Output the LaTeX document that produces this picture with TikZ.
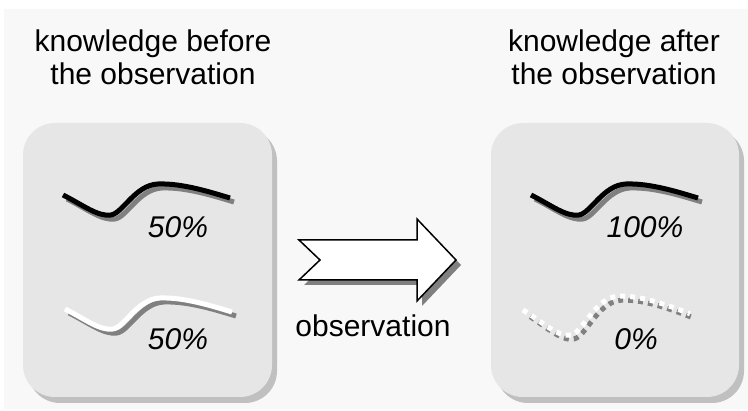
\documentclass[tikz,border=0pt]{standalone}
\usepackage{fontspec}
\setmainfont{Liberation Sans}
\definecolor{bggray}{HTML}{F8F8F8}
\definecolor{boxgray}{HTML}{E6E6E6}
\definecolor{boxshade}{HTML}{C0C0C0}
\definecolor{lineshade}{HTML}{808080}
\tikzset{
	panel/.style={fill=boxgray,rounded corners=32pt},
	panelshade/.style={fill=boxshade,rounded corners=32pt},
	title/.style={font=\fontsize{30}{33}\selectfont,align=center,anchor=base},
	percent/.style={font=\fontsize{30}{33}\selectfont\itshape,anchor=base},
	blackwave/.style={draw=black,line width=5pt},
	whitewave/.style={draw=white,line width=5pt},
	wavehadow/.style={draw=lineshade,line width=5pt},
	dotwave/.style={draw=white,line width=5pt,dash pattern=on 5pt off 5pt},
	dotshade/.style={draw=lineshade,line width=5pt,dash pattern=on 5pt off 5pt,dash phase=5pt}
}
\newcommand{\wave}{(0,0) .. controls (20,10) and (35,22) .. (48,20) .. controls (60,18) and (72,-10) .. (95,-11) .. controls (120,-12) and (150,-2) .. (167,3)}
\begin{document}
\begin{tikzpicture}[x=1pt,y=-1pt]
	\useasboundingbox (0,0) rectangle (748,411);
	\fill[bggray] (4,9) rectangle (748,409);
	% panels
	\fill[panelshade] (28,129) rectangle (277,403);
	\fill[panel] (23,123) rectangle (272,397);
	\fill[panelshade] (496,129) rectangle (744,403);
	\fill[panel] (491,123) rectangle (739,397);
	% titles
	\node[title] (before) at (153,85) {knowledge before\\the observation};
	\node[title] (after) at (614,85) {knowledge after\\the observation};
	% left panel
	\draw[wavehadow,shift={(67,199)}] \wave;
	\draw[blackwave,shift={(63,195)}] \wave;
	\draw[wavehadow,shift={(69,313)}] \wave;
	\draw[whitewave,shift={(65,309)}] \wave;
	\node[percent] (pa) at (178,238) {50\%};
	\node[percent] (pb) at (178,350) {50\%};
	% right panel
	\draw[wavehadow,shift={(535,199)}] \wave;
	\draw[blackwave,shift={(531,195)}] \wave;
	\draw[dotshade,shift={(526,314)},yscale=1.25] \wave;
	\draw[dotwave,shift={(523,310)},yscale=1.25] \wave;
	\node[percent] (pc) at (645,238) {100\%};
	\node[percent] (pd) at (636,350) {0\%};
	% arrow
	\fill[lineshade,shift={(5,5)}] (299,240) -- (417,240) -- (417,219) -- (456,260) -- (417,301) -- (417,280) -- (299,280) -- (320,260) -- cycle;
	\draw[fill=white,line width=1.5pt] (299,240) -- (417,240) -- (417,219) -- (456,260) -- (417,301) -- (417,280) -- (299,280) -- (320,260) -- cycle;
	\node[title] (obs) at (373,337) {observation};
\end{tikzpicture}
\end{document}
